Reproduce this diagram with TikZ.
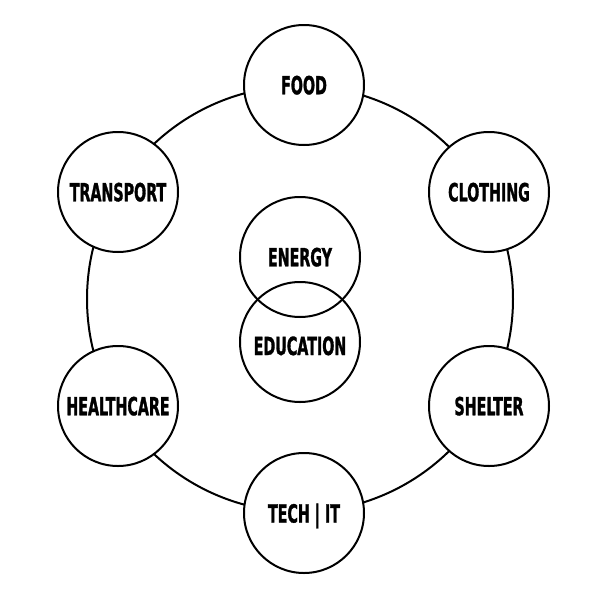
\documentclass[tikz,border=0pt]{standalone}
\usepackage{fontspec}
\newfontfamily\lblfont[FakeStretch=0.57,FakeBold=1.2]{DejaVu Sans}
\begin{document}
\begin{tikzpicture}[x=1pt,y=-1pt,
  ringline/.style={draw=black, line width=2pt, circle, inner sep=0pt, minimum size=426pt},
  topic/.style={draw=black, line width=2pt, circle, fill=white, inner sep=0pt,
    minimum size=120pt, text depth=0pt, font=\lblfont\bfseries\fontsize{25pt}{27pt}\selectfont},
  core/.style={draw=black, line width=2pt, circle, inner sep=0pt,
    minimum size=120pt, text depth=0pt, font=\lblfont\bfseries\fontsize{25pt}{27pt}\selectfont}]
\useasboundingbox (0,0) rectangle (600,600);
\fill[white] (0,0) rectangle (600,600);
\node[ringline] (ring) at (300,299) {};
\node[topic] (food) at (304,85) {FOOD};
\node[topic] (clothing) at (489,192) {CLOTHING};
\node[topic] (shelter) at (489,406) {SHELTER};
\node[topic] (tech) at (304,513) {TECH | IT};
\node[topic] (health) at (118,406) {HEALTHCARE};
\node[topic] (transport) at (118,192) {TRANSPORT};
\node[core] (energy) at (300,257) {ENERGY};
\node[core, text height=26pt] (education) at (300,342) {EDUCATION};
\end{tikzpicture}
\end{document}
